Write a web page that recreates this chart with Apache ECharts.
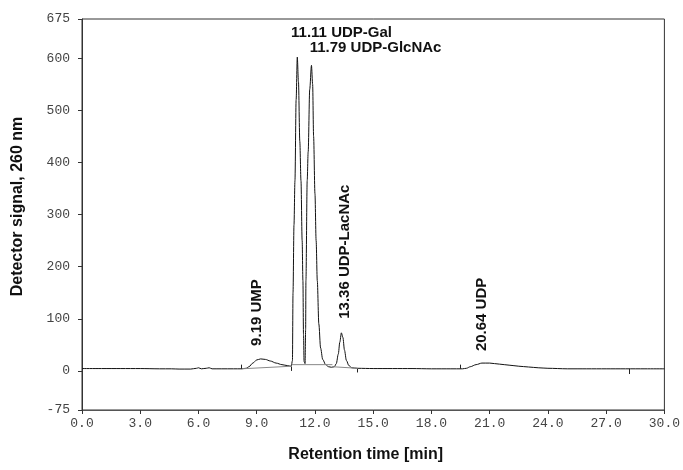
<!DOCTYPE html>
<html>
<head>
<meta charset="utf-8">
<script src="https://cdn.jsdelivr.net/npm/echarts@6/dist/echarts.min.js"></script>
<style>
  html, body { margin: 0; padding: 0; background: #fff; }
  #chart { width: 683px; height: 470px; }
</style>
</head>
<body>
<div id="chart"></div>
<script>
// 色谱图数据：保留时间 [min] / 检测信号 (260 nm)
let trace = [
  [0, 4.5], [1, 4.5], [2, 4.5], [3, 4.5], [4, 4], [4.6, 4], [5, 3.5], [5.6, 3.5],
  [5.9, 5], [6.0, 6], [6.15, 4], [6.4, 5], [6.55, 6], [6.7, 4], [7.2, 4], [7.8, 4],
  [8.2, 4], [8.45, 5], [8.6, 8], [8.8, 15], [9.0, 21], [9.2, 23], [9.45, 22], [9.7, 19],
  [10.0, 15], [10.3, 12], [10.6, 10], [10.78, 9],
  [10.84, 20], [10.87, 150], [10.92, 280], [10.97, 365], [11.03, 520], [11.09, 602],
  [11.15, 555], [11.22, 440], [11.28, 365], [11.34, 250], [11.38, 173], [11.41, 70], [11.44, 18],
  [11.49, 14], [11.52, 80], [11.535, 173], [11.6, 365], [11.65, 420], [11.73, 540], [11.82, 586],
  [11.88, 550], [11.93, 450], [12.0, 340], [12.06, 250], [12.12, 173], [12.2, 90], [12.29, 44],
  [12.4, 22], [12.55, 12], [12.7, 8], [12.85, 7],
  [13.0, 8], [13.1, 14], [13.2, 32], [13.28, 55], [13.36, 73], [13.44, 64], [13.52, 40],
  [13.62, 20], [13.75, 10], [13.9, 6], [14.2, 5], [15, 4.5], [16, 4.5], [17, 4.5], [18, 4],
  [19, 4], [19.6, 4], [19.8, 5], [20.0, 8], [20.3, 12], [20.6, 15], [21.0, 15], [21.5, 13],
  [22.0, 11], [22.5, 9], [23.0, 7.5], [23.5, 6], [24.0, 5], [25.0, 4], [26, 4], [27, 4],
  [28, 4], [29, 4], [30, 4]
];
// 积分基线
let integBase = [
  [[8.2, 4], [10.8, 9]],
  [[10.8, 12], [12.9, 12]],
  [[12.9, 8], [14.2, 5]]
];
// 积分事件标记 [时间, 下端, 上端]
let eventMarks = [[8.2, 4, 12], [10.78, 0, 8], [14.2, -3, 4], [19.5, 4, 12], [28.2, -6, 4]];
// 峰标注 [文本, 时间, 信号, 是否竖排]
let peakLabels = [
  ['11.11 UDP-Gal', 10.77, 648, false],
  ['11.79 UDP-GlcNAc', 11.73, 619, false],
  ['9.19 UMP', 9.0, 48, true],
  ['13.36 UDP-LacNAc', 13.52, 100, true],
  ['20.64 UDP', 20.58, 38, true]
];
let yTicks = [-75, 0, 100, 200, 300, 400, 500, 600, 675];

let tickFont = { fontFamily: 'Liberation Mono', fontSize: 13, color: '#444' };
let axisColor = '#333';

let option = {
  animation: false,
  grid: {
    left: 82, right: 16, top: 19, bottom: 60,
    show: true, borderColor: axisColor, borderWidth: 1
  },
  xAxis: {
    type: 'value', min: 0, max: 30, interval: 3,
    name: 'Retention time [min]', nameLocation: 'middle', nameGap: 37,
    nameTextStyle: { fontFamily: 'Liberation Sans', fontSize: 16, fontWeight: 'bold', color: '#111', padding: [0, 15, 0, 0] },
    axisLine: { onZero: false, lineStyle: { color: '#555' } },
    axisTick: { length: 4, lineStyle: { color: axisColor } },
    axisLabel: Object.assign({ margin: 7, formatter: v => v.toFixed(1) }, tickFont),
    splitLine: { show: false }
  },
  yAxis: {
    type: 'value', min: -75, max: 675, interval: 25,
    name: 'Detector signal, 260 nm', nameLocation: 'middle', nameGap: 56,
    nameTextStyle: { fontFamily: 'Liberation Sans', fontSize: 16, fontWeight: 'bold', color: '#111', padding: [0, 0, 0, 16] },
    axisLine: { show: true, onZero: false, lineStyle: { color: axisColor } },
    axisTick: { show: true, length: 4, customValues: yTicks, lineStyle: { color: axisColor } },
    axisLabel: Object.assign({ margin: 12, customValues: yTicks }, tickFont),
    splitLine: { show: false }
  },
  series: [
    {
      type: 'line',
      data: trace,
      symbol: 'none',
      smooth: 0.3,
      smoothMonotone: 'x',
      lineStyle: { color: '#111', width: 1 },
      markLine: {
        silent: true, symbol: 'none', label: { show: false },
        lineStyle: { color: '#222', width: 1, type: 'solid' },
        data: eventMarks.map(m => [{ coord: [m[0], m[1]] }, { coord: [m[0], m[2]] }])
      }
    }
  ].concat(integBase.map(seg => ({
    type: 'line',
    data: seg,
    symbol: 'none',
    lineStyle: { color: '#888', width: 1 }
  })))
};

let myChart = echarts.init(document.getElementById('chart'));
myChart.setOption(option);

// 峰标注用 graphic 放置
let texts = peakLabels.map(p => {
  let pt = myChart.convertToPixel({ gridIndex: 0 }, [p[1], p[2]]);
  return {
    type: 'text',
    x: pt[0], y: pt[1],
    rotation: p[3] ? Math.PI / 2 : 0,
    style: {
      text: p[0],
      font: 'bold 15px "Liberation Sans"',
      fill: '#111',
      align: 'left',
      verticalAlign: 'middle'
    }
  };
});
myChart.setOption({ graphic: texts });
</script>
</body>
</html>
